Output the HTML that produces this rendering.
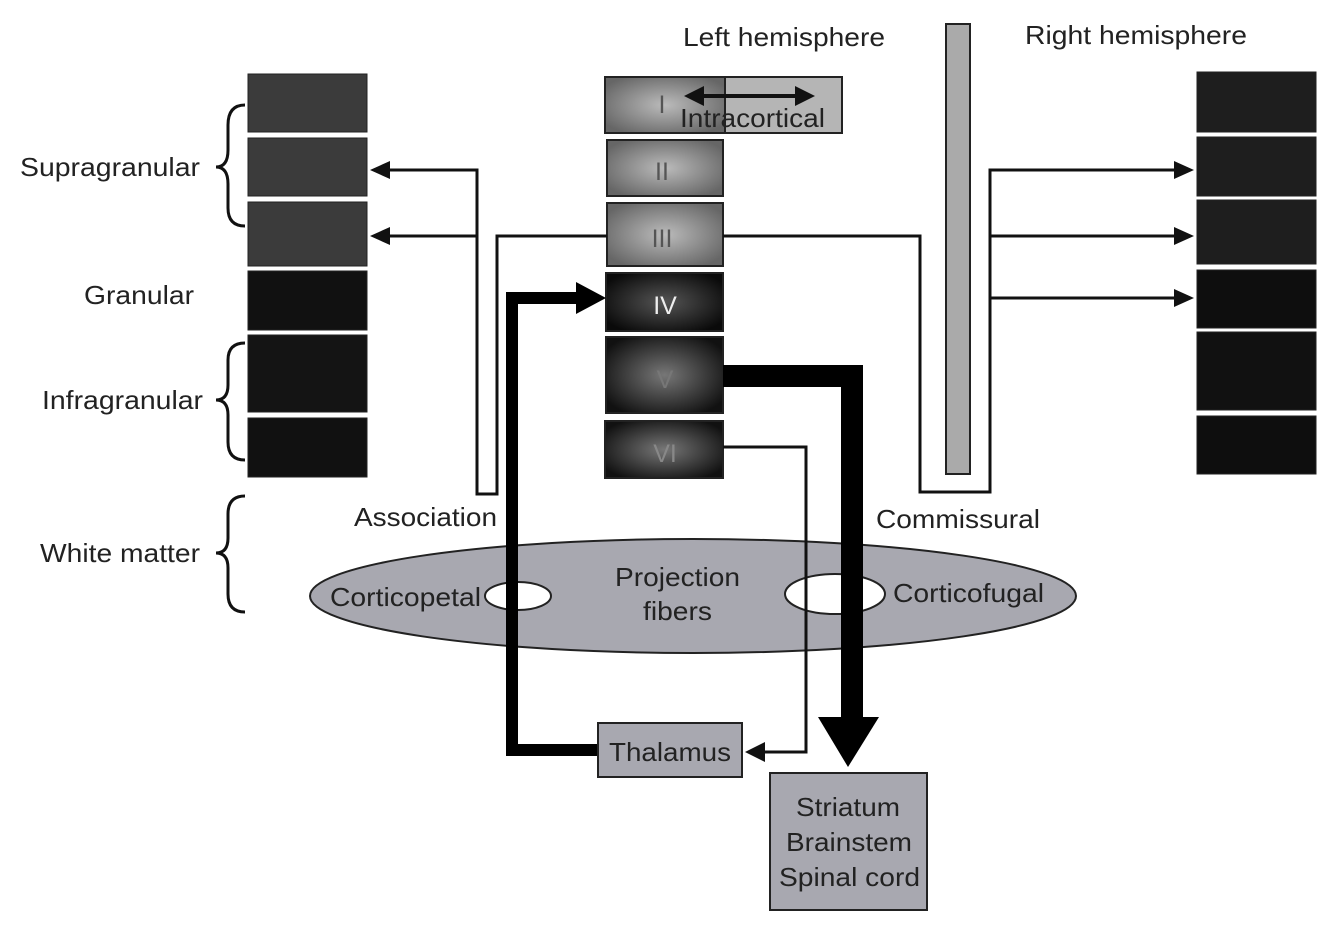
<!DOCTYPE html>
<html><head><meta charset="utf-8"><style>
html,body{margin:0;padding:0;background:#fff;}
svg{display:block;font-family:"Liberation Sans",sans-serif;}
</style></head><body>
<svg width="1334" height="941" viewBox="0 0 1334 941" xmlns="http://www.w3.org/2000/svg">
<defs>
<radialGradient id="g1" cx="50%" cy="50%" r="60%"><stop offset="0" stop-color="#bbb"/><stop offset="1" stop-color="#666"/></radialGradient>
<radialGradient id="g2" cx="50%" cy="50%" r="60%"><stop offset="0" stop-color="#777"/><stop offset="1" stop-color="#111"/></radialGradient>
<radialGradient id="g3" cx="50%" cy="50%" r="60%"><stop offset="0" stop-color="#555"/><stop offset="1" stop-color="#0a0a0a"/></radialGradient>
</defs>
<g stroke="#222" stroke-width="1">
<rect x="248" y="74" width="119" height="58" fill="#3b3b3b"/>
<rect x="248" y="138" width="119" height="58" fill="#3b3b3b"/>
<rect x="248" y="202" width="119" height="64" fill="#3b3b3b"/>
<rect x="248" y="271" width="119" height="59" fill="#111"/>
<rect x="248" y="335" width="119" height="77" fill="#141414"/>
<rect x="248" y="418" width="119" height="59" fill="#111"/>
<rect x="1197" y="72" width="119" height="60" fill="#1e1e1e"/>
<rect x="1197" y="137" width="119" height="59" fill="#1e1e1e"/>
<rect x="1197" y="200" width="119" height="64" fill="#1e1e1e"/>
<rect x="1197" y="270" width="119" height="58" fill="#0e0e0e"/>
<rect x="1197" y="332" width="119" height="78" fill="#111"/>
<rect x="1197" y="416" width="119" height="58" fill="#0e0e0e"/>
</g>
<rect x="946" y="24" width="24" height="450" fill="#aaa" stroke="#222" stroke-width="2"/>
<g stroke="#222" stroke-width="2">
<rect x="725" y="77" width="117" height="56" fill="#b5b5b5"/>
<rect x="605" y="77" width="120" height="56" fill="url(#g1)"/>
<rect x="607" y="140" width="116" height="56" fill="url(#g1)"/>
<rect x="607" y="203" width="116" height="63" fill="url(#g1)"/>
<rect x="606" y="273" width="117" height="58" fill="url(#g3)"/>
<rect x="606" y="337" width="117" height="76" fill="url(#g2)"/>
<rect x="605" y="421" width="118" height="57" fill="url(#g2)"/>
</g>
<g font-size="25" fill="#555" text-anchor="middle">
<text x="662" y="113">I</text>
<text x="662" y="180">II</text>
<text x="662" y="247">III</text>
<text x="665" y="314" fill="#eee">IV</text>
<text x="665" y="388" fill="#777">V</text>
<text x="665" y="462" fill="#888">VI</text>
</g>
<line x1="700" y1="96" x2="798" y2="96" stroke="#111" stroke-width="4"/>
<polygon points="684,96 704,86 704,106" fill="#111"/>
<polygon points="815,96 795,86 795,106" fill="#111"/>
<text x="680" y="127" font-size="26" fill="#222" textLength="145" lengthAdjust="spacingAndGlyphs">Intracortical</text>
<ellipse cx="693" cy="596" rx="383" ry="57" fill="#a8a8b0" stroke="#222" stroke-width="2"/>
<ellipse cx="518" cy="596" rx="33" ry="14" fill="#fff" stroke="#222" stroke-width="2"/>
<ellipse cx="835" cy="594" rx="50" ry="20" fill="#fff" stroke="#222" stroke-width="2"/>
<g font-size="26" fill="#222" lengthAdjust="spacingAndGlyphs">
<text x="330" y="606" textLength="151" lengthAdjust="spacingAndGlyphs">Corticopetal</text>
<text x="893" y="602" textLength="151" lengthAdjust="spacingAndGlyphs">Corticofugal</text>
<text x="615" y="586" textLength="125" lengthAdjust="spacingAndGlyphs">Projection</text>
<text x="643" y="620" textLength="69" lengthAdjust="spacingAndGlyphs">fibers</text>
</g>
<g fill="none" stroke="#111" stroke-width="3">
<polyline points="385,170 477,170 477,494 497,494 497,236 607,236"/>
<line x1="385" y1="236" x2="477" y2="236"/>
<polyline points="723,236 920,236 920,492 990,492 990,170 1178,170"/>
<line x1="990" y1="236" x2="1178" y2="236"/>
<line x1="990" y1="298" x2="1178" y2="298"/>
<polyline points="723,447 806,447 806,752 760,752"/>
</g>
<g fill="#111">
<polygon points="370,170 390,161 390,179"/>
<polygon points="370,236 390,227 390,245"/>
<polygon points="1194,170 1174,161 1174,179"/>
<polygon points="1194,236 1174,227 1174,245"/>
<polygon points="1194,298 1174,289 1174,307"/>
<polygon points="745,752 765,742 765,762"/>
</g>
<polyline points="600,750 512,750 512,298 580,298" fill="none" stroke="#000" stroke-width="12"/>
<polygon points="606,298 576,282 576,314" fill="#000"/>
<polyline points="723,376 852,376 852,725" fill="none" stroke="#000" stroke-width="22"/>
<polygon points="818,717 879,717 848,767" fill="#000"/>
<rect x="598" y="723" width="144" height="54" fill="#a8a8b0" stroke="#222" stroke-width="2"/>
<rect x="770" y="773" width="157" height="137" fill="#a8a8b0" stroke="#222" stroke-width="2"/>
<g font-size="26" fill="#222">
<text x="609" y="761" textLength="122" lengthAdjust="spacingAndGlyphs">Thalamus</text>
<text x="796" y="816" textLength="104" lengthAdjust="spacingAndGlyphs">Striatum</text>
<text x="786" y="851" textLength="126" lengthAdjust="spacingAndGlyphs">Brainstem</text>
<text x="779" y="886" textLength="141" lengthAdjust="spacingAndGlyphs">Spinal cord</text>
</g>
<g font-size="26" fill="#222">
<text x="683" y="46" textLength="202" lengthAdjust="spacingAndGlyphs">Left hemisphere</text>
<text x="1025" y="44" textLength="222" lengthAdjust="spacingAndGlyphs">Right hemisphere</text>
<text x="20" y="176" textLength="180" lengthAdjust="spacingAndGlyphs">Supragranular</text>
<text x="84" y="304" textLength="110" lengthAdjust="spacingAndGlyphs">Granular</text>
<text x="42" y="409" textLength="161" lengthAdjust="spacingAndGlyphs">Infragranular</text>
<text x="40" y="562" textLength="160" lengthAdjust="spacingAndGlyphs">White matter</text>
<text x="354" y="526" textLength="143" lengthAdjust="spacingAndGlyphs">Association</text>
<text x="876" y="528" textLength="164" lengthAdjust="spacingAndGlyphs">Commissural</text>
</g>
<g fill="none" stroke="#111" stroke-width="3">
<path d="M245,105 Q228,105 228,125 L228,150 Q228,167 216,167 Q228,167 228,184 L228,208 Q228,226 245,226"/>
<path d="M245,343 Q228,343 228,360 L228,385 Q228,400 216,400 Q228,400 228,415 L228,442 Q228,460 245,460"/>
<path d="M245,496 Q228,496 228,514 L228,538 Q228,553 216,553 Q228,553 228,568 L228,594 Q228,612 245,612"/>
</g>
</svg>
</body></html>
